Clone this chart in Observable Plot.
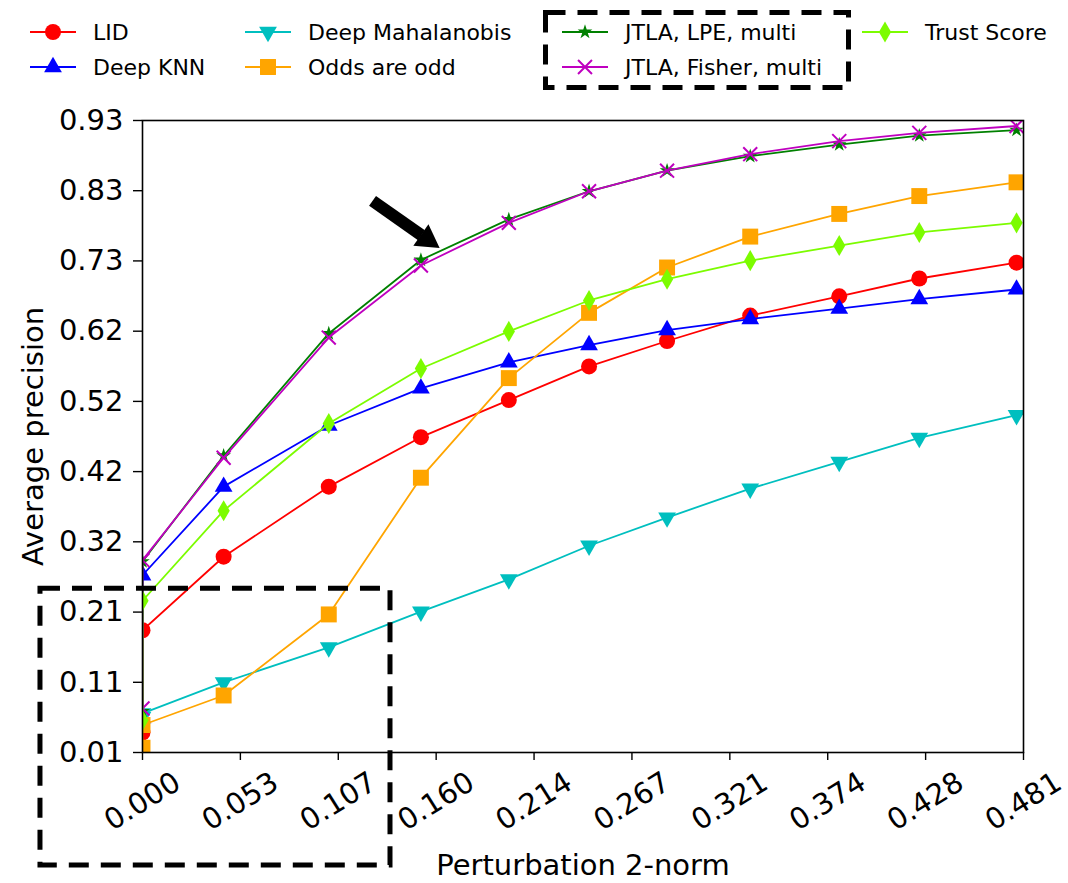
<!DOCTYPE html>
<html>
<head>
<meta charset="utf-8">
<script src="https://cdn.jsdelivr.net/npm/d3@7"></script>
<script src="https://cdn.jsdelivr.net/npm/@observablehq/plot@0.6"></script>
<style>
  html, body { margin: 0; padding: 0; background: white; }
  body { width: 1068px; height: 883px; overflow: hidden; font-family: "DejaVu Sans", sans-serif; }
  #legend { position: relative; width: 1068px; height: 100px; }
  .item { position: absolute; display: flex; align-items: center; height: 30px; font-size: 22px; color: black; white-space: nowrap; }
  .item svg { margin-right: 17px; }
  #legend-box { position: absolute; left: 543px; top: 10px; }
</style>
</head>
<body>
<div id="legend"></div>
<div id="chart"></div>
<script>
// ---- data ----
const xValues = [0, 0, 0.0443, 0.1017, 0.152, 0.200, 0.2438, 0.2864, 0.3318, 0.3804, 0.4241, 0.4772];

const lid             = [0.039, 0.188, 0.295, 0.397, 0.469, 0.523, 0.572, 0.609, 0.646, 0.674, 0.700, 0.723];
const deepKnn         = [0.060, 0.268, 0.397, 0.486, 0.540, 0.578, 0.603, 0.625, 0.641, 0.656, 0.670, 0.684];
const deepMahalanobis = [0.062, 0.067, 0.112, 0.163, 0.215, 0.262, 0.311, 0.352, 0.394, 0.433, 0.468, 0.501];
const oddsAreOdd      = [0.017, 0.050, 0.093, 0.211, 0.410, 0.555, 0.650, 0.716, 0.761, 0.794, 0.820, 0.840];
const jtlaLpe         = [0.070, 0.288, 0.442, 0.620, 0.727, 0.786, 0.827, 0.857, 0.878, 0.895, 0.908, 0.916];
const jtlaFisher      = [0.074, 0.290, 0.439, 0.614, 0.719, 0.781, 0.827, 0.857, 0.881, 0.900, 0.912, 0.922];
const trustScore      = [0.057, 0.231, 0.362, 0.489, 0.569, 0.623, 0.668, 0.699, 0.726, 0.748, 0.767, 0.781];

const seriesNames = ["LID", "Deep KNN", "Deep Mahalanobis", "Odds are odd", "JTLA, LPE, multi", "JTLA, Fisher, multi", "Trust Score"];
const seriesValues = [lid, deepKnn, deepMahalanobis, oddsAreOdd, jtlaLpe, jtlaFisher, trustScore];

const xTicks = [0, 0.05344, 0.10689, 0.16033, 0.21378, 0.26722, 0.32067, 0.37411, 0.42756, 0.481];
const xTickLabels = ["0.000", "0.053", "0.107", "0.160", "0.214", "0.267", "0.321", "0.374", "0.428", "0.481"];
const yTicks = [0.01, 0.1122, 0.2144, 0.3167, 0.4189, 0.5211, 0.6233, 0.7256, 0.8278, 0.93];
const yTickLabels = ["0.01", "0.11", "0.21", "0.32", "0.42", "0.52", "0.62", "0.73", "0.83", "0.93"];

const xLabel = "Perturbation 2-norm";
const yLabel = "Average precision";

// annotations (in data units)
const highlightBox = [{x1: -0.0557, x2: 0.1354, y1: -0.1544, y2: 0.2485}];
const arrowShaft = [{x1: 0.1256, y1: 0.813, x2: 0.1523, y2: 0.763}];
const arrowHead = [{x: 0.1554, y: 0.757}];

// ---- styles ----
const styles = [
  {color: "#ff0000", symbol: "circle",   r: 8.0, filled: true,  rotate: 0},
  {color: "#0000ff", symbol: "triangle", r: 6.6, filled: true,  rotate: 0},
  {color: "#00bfbf", symbol: "triangle", r: 6.6, filled: true,  rotate: 180},
  {color: "#ffa500", symbol: "square",   r: 9.0, filled: true,  rotate: 0},
  {color: "#008000", symbol: "star",     r: 4.6, filled: true,  rotate: 0},
  {color: "#bf00bf", symbol: "times",    r: 6.4, filled: false, rotate: 0},
  {color: "#7cfc00", symbol: "diamond",  r: 6.4, filled: true,  rotate: 0}
];
const d3Symbols = {circle: d3.symbolCircle, triangle: d3.symbolTriangle, square: d3.symbolSquare,
  star: d3.symbolStar, times: d3.symbolTimes, diamond: d3.symbolDiamond};

const xLabelMap = new Map(xTicks.map((t, i) => [t, xTickLabels[i]]));
const yLabelMap = new Map(yTicks.map((t, i) => [t, yTickLabels[i]]));

const seriesMarks = seriesValues.flatMap((vals, k) => {
  const s = styles[k];
  const rows = xValues.map((x, i) => ({x, y: vals[i], name: seriesNames[k]}));
  return [
    Plot.line(rows, {x: "x", y: "y", stroke: s.color, strokeWidth: 1.8, clip: true}),
    Plot.dot(rows, {
      x: "x", y: "y", symbol: s.symbol, r: s.r, rotate: s.rotate,
      fill: s.filled ? s.color : "none",
      stroke: s.filled ? "none" : s.color,
      strokeWidth: s.filled ? 0 : 2,
      clip: true
    })
  ];
});

const chart = Plot.plot({
  width: 1068,
  height: 783,
  marginTop: 20,
  marginBottom: 131,
  marginLeft: 142,
  marginRight: 45,
  style: {fontFamily: "DejaVu Sans", fontSize: "29px", color: "black", background: "white", overflow: "visible"},
  x: {domain: [0, 0.481]},
  y: {domain: [0.01, 0.93]},
  marks: [
    ...seriesMarks,
    Plot.frame({stroke: "black", strokeWidth: 1.6}),
    Plot.axisY({ticks: yTicks, tickFormat: d => yLabelMap.get(d), tickSize: 9, tickPadding: 10, fontSize: 29, label: null, stroke: "black", strokeWidth: 1.4}),
    Plot.axisX({ticks: xTicks, tickFormat: () => "", tickSize: 8, label: null, stroke: "black", strokeWidth: 1.4}),
    Plot.text(xTicks, {x: d => d, text: d => xLabelMap.get(d), frameAnchor: "bottom", dy: 49, rotate: -32,
      textAnchor: "middle", lineAnchor: "middle", fontSize: 29, fill: "black"}),
    Plot.text([xLabel], {text: d => d, frameAnchor: "bottom", dy: 113, lineAnchor: "middle", fontSize: 29, fill: "black"}),
    Plot.text([yLabel], {text: d => d, frameAnchor: "left", dx: -109, rotate: -90, lineAnchor: "middle", textAnchor: "middle", fontSize: 29, fill: "black"}),
    Plot.rect(highlightBox, {x1: "x1", x2: "x2", y1: "y1", y2: "y2", fill: "none", stroke: "black",
      strokeWidth: 5, strokeDasharray: "20,12", clip: false}),
    Plot.link(arrowShaft, {x1: "x1", y1: "y1", x2: "x2", y2: "y2", stroke: "black", strokeWidth: 12, strokeLinecap: "butt"}),
    Plot.dot(arrowHead, {x: "x", y: "y", symbol: "triangle", r: 9.8, rotate: 125, fill: "black", stroke: "none"})
  ]
});
document.getElementById("chart").appendChild(chart);

// ---- legend ----
const legend = document.getElementById("legend");
const legendCols = [30, 245, 562, 862];
const legendRows = [17, 52];
const legendPlacement = [[0,0],[0,1],[1,0],[1,1],[2,0],[2,1],[3,0]];
seriesNames.forEach((name, k) => {
  const s = styles[k];
  const [c, r] = legendPlacement[k];
  const item = document.createElement("div");
  item.className = "item";
  item.style.left = legendCols[c] + "px";
  item.style.top = legendRows[r] + "px";
  const sw = d3.create("svg").attr("width", 46).attr("height", 30);
  sw.append("line").attr("x1", 0).attr("x2", 46).attr("y1", 15).attr("y2", 15)
    .attr("stroke", s.color).attr("stroke-width", 1.8);
  sw.append("path")
    .attr("d", d3.symbol(d3Symbols[s.symbol], s.r * s.r * Math.PI)())
    .attr("transform", `translate(23,15) rotate(${s.rotate})`)
    .attr("fill", s.filled ? s.color : "none")
    .attr("stroke", s.filled ? "none" : s.color)
    .attr("stroke-width", 2);
  item.appendChild(sw.node());
  const span = document.createElement("span");
  span.textContent = name;
  item.appendChild(span);
  legend.appendChild(item);
});
// dashed box around the JTLA entries
const box = d3.create("svg").attr("id", "legend-box").attr("width", 308).attr("height", 80);
box.append("rect").attr("x", 2.5).attr("y", 2.5).attr("width", 303).attr("height", 75)
  .attr("fill", "none").attr("stroke", "black").attr("stroke-width", 5).attr("stroke-dasharray", "20,12");
legend.appendChild(box.node());
</script>
</body>
</html>
